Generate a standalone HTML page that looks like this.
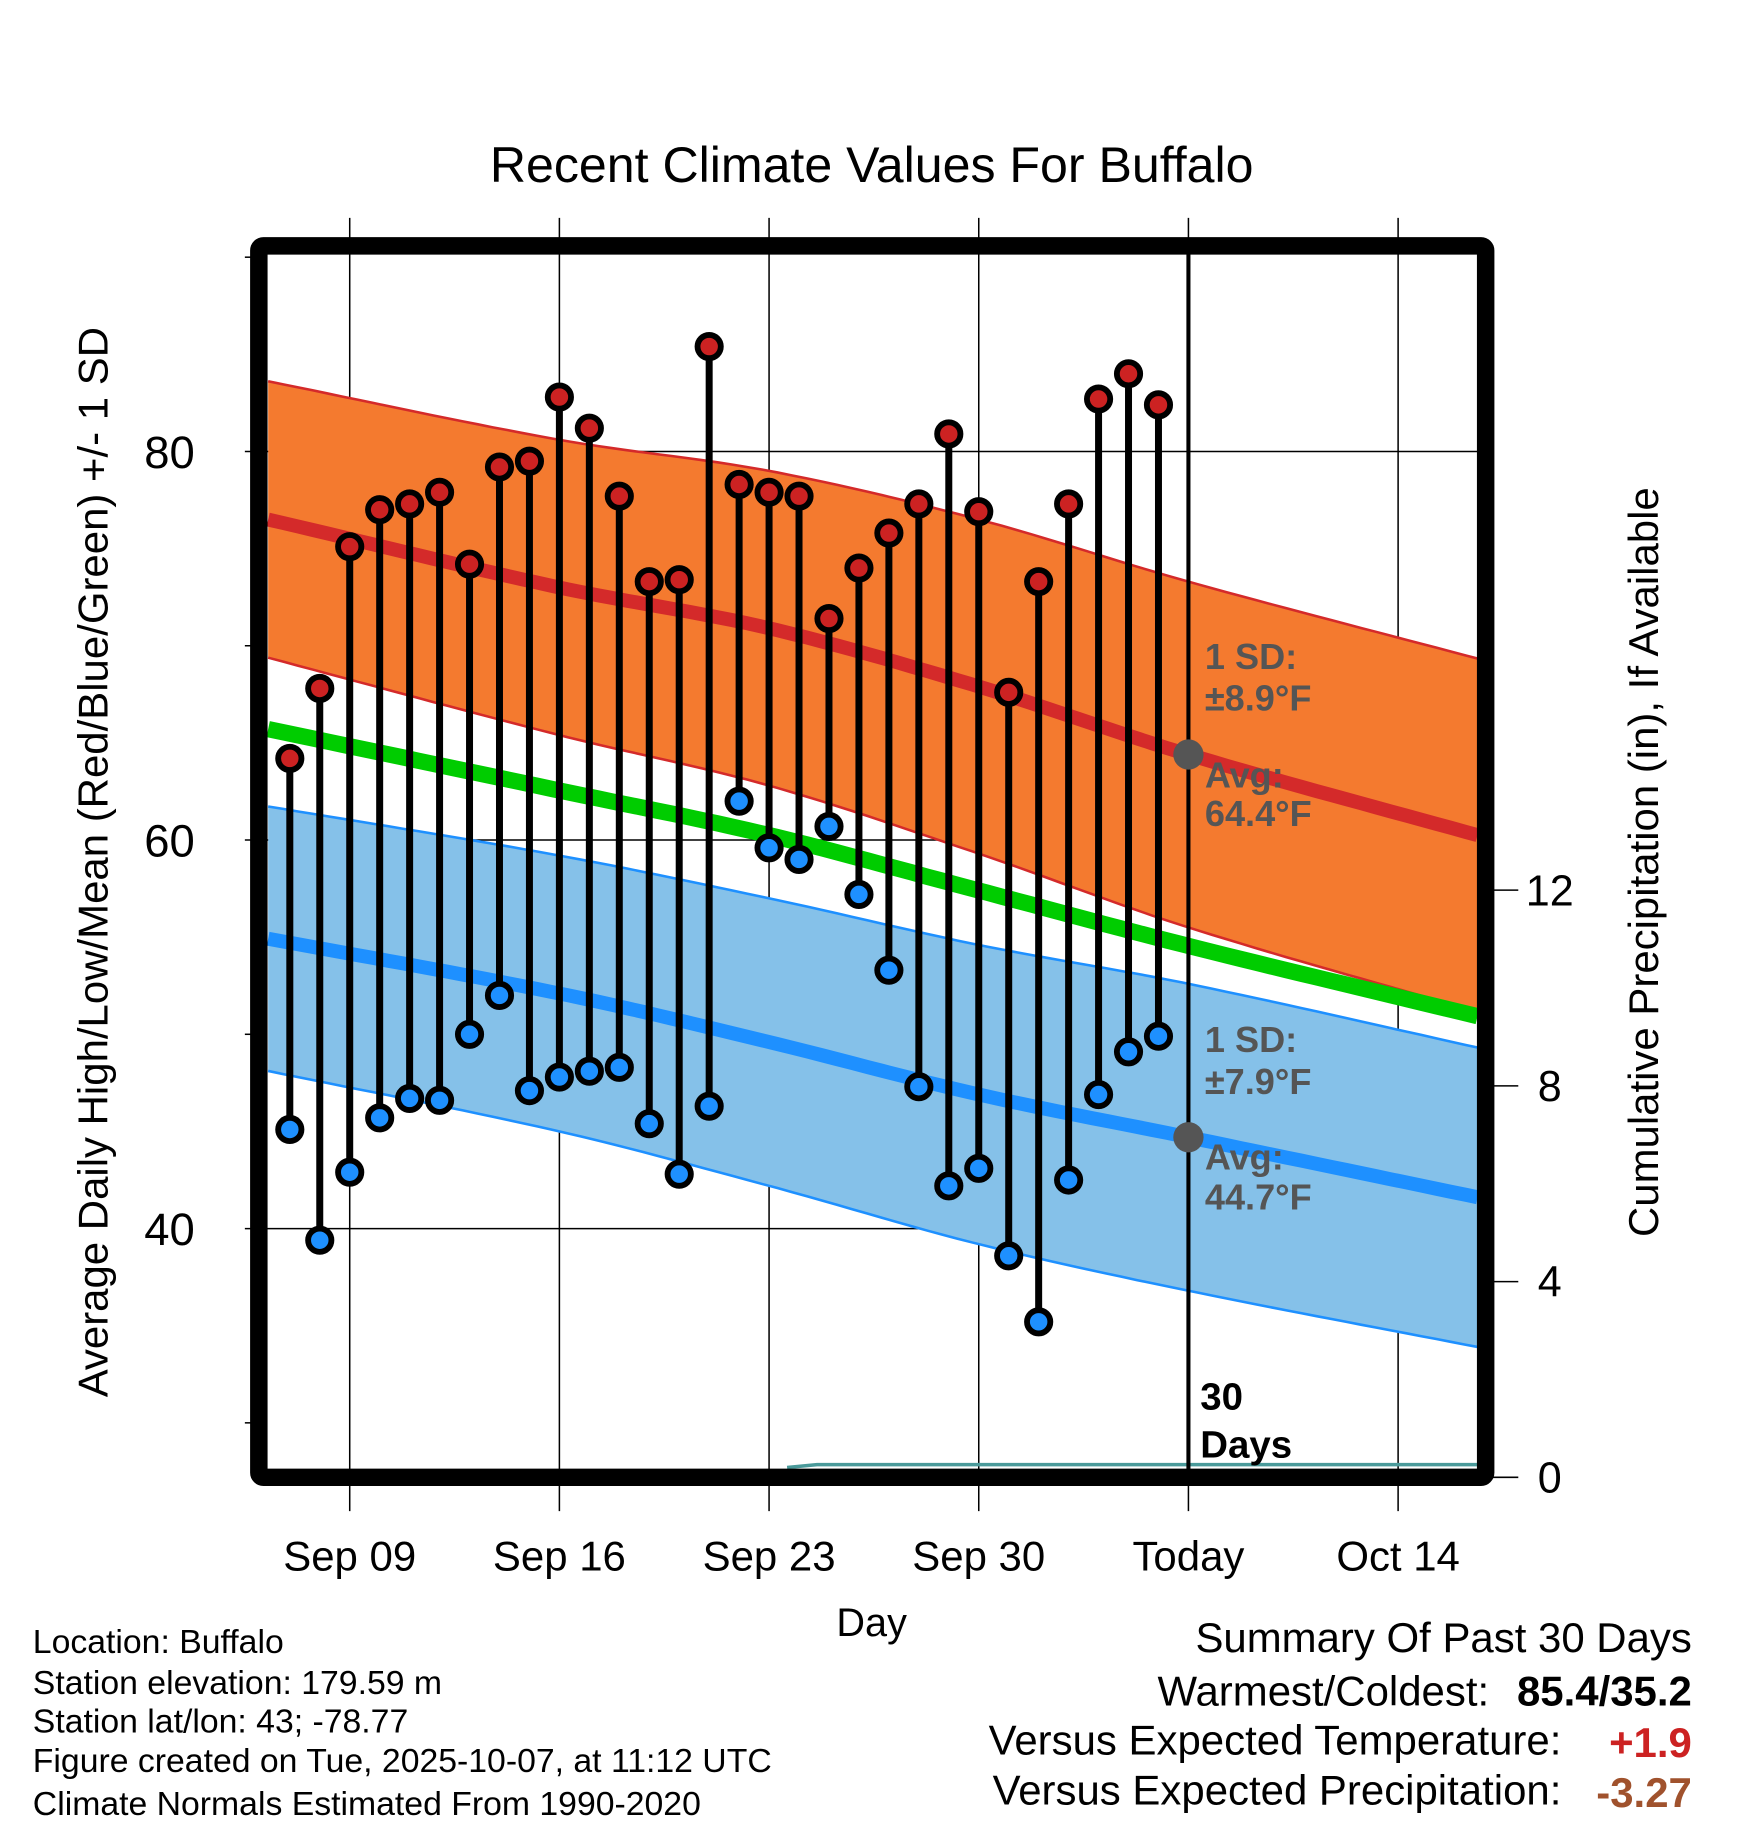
<!DOCTYPE html>
<html><head><meta charset="utf-8"><style>
html,body{margin:0;padding:0;background:#fff}
svg{display:block}
text{font-family:"Liberation Sans",sans-serif}
</style></head><body>
<svg id="chart" width="1748" height="1828" viewBox="0 0 1500 1569" xmlns="http://www.w3.org/2000/svg">
<text x="748" y="156" font-size="43" text-anchor="middle">Recent Climate Values For Buffalo</text>
<g id="grid"></g>
<g id="bands"></g>
<g id="marks"></g>
<g id="ann"></g>
<rect x="222" y="211" width="1053" height="1057" fill="none" stroke="#000" stroke-width="15" rx="4"/>
<text transform="translate(92,740) rotate(-90)" font-size="36" text-anchor="middle">Average Daily High/Low/Mean (Red/Blue/Green) +/- 1 SD</text>
<text transform="translate(1423,740) rotate(-90)" font-size="36" text-anchor="middle">Cumulative Precipitation (in), If Available</text>
<text x="748" y="1404" font-size="34" text-anchor="middle">Day</text>
<g font-size="29">
<text x="28" y="1419">Location: Buffalo</text>
<text x="28" y="1454">Station elevation: 179.59 m</text>
<text x="28" y="1487">Station lat/lon: 43; -78.77</text>
<text x="28" y="1521">Figure created on Tue, 2025-10-07, at 11:12 UTC</text>
<text x="28" y="1558">Climate Normals Estimated From 1990-2020</text>
</g>
<g font-size="36" text-anchor="end">
<text x="1452" y="1418">Summary Of Past 30 Days</text>
<text x="1278" y="1464">Warmest/Coldest:</text>
<text x="1452" y="1464" font-weight="bold">85.4/35.2</text>
<text x="1340" y="1506">Versus Expected Temperature:</text>
<text x="1452" y="1508" font-weight="bold" fill="#cc2222">+1.9</text>
<text x="1340" y="1549">Versus Expected Precipitation:</text>
<text x="1452" y="1551" font-weight="bold" fill="#a0522d">-3.27</text>
</g>
</svg>
<script>
const highs=[64.2,67.8,75.1,77.0,77.3,77.9,74.2,79.2,79.5,82.8,81.2,77.7,73.3,73.4,85.4,78.3,77.9,77.7,71.4,74.0,75.8,77.3,80.9,76.9,67.6,73.3,77.3,82.7,84.0,82.4];
const lows=[45.1,39.4,42.9,45.7,46.7,46.6,50.0,52.0,47.1,47.8,48.1,48.3,45.4,42.8,46.3,62.0,59.6,59.0,60.7,57.2,53.3,47.3,42.2,43.1,38.6,35.2,42.5,46.9,49.1,49.9];
const normDays=[-3,7,14,21,28,38];
const normHigh=[76.6,73.0,70.9,67.9,64.4,60.1];
const normLow=[55.0,52.1,49.6,46.9,44.7,41.5];
const sdHigh=[7.1,7.6,8.1,8.6,8.9,9.1];
const sdLow=[6.8,7.1,7.4,7.7,7.9,7.7];
const precipDays=[14.6,15.6,28,37.7];
const precipVals=[0.2,0.26,0.26,0.26];
const xTickDays=[0,7,14,21,28,35];
const xTickLabels=["Sep 09","Sep 16","Sep 23","Sep 30","Today","Oct 14"];
const yTicks=[40,60,80];
const yMinor=[30,50,70,90];
const y2Ticks=[0,4,8,12];
const firstDay=-2;

const NS="http://www.w3.org/2000/svg";
const X0=230,X1=1268;
const x=d=>300+25.71*d;
const y=t=>721-(t-60)*16.675;
const y2=p=>1268-p*42;
const dmin=(X0-300)/25.71, dmax=(X1-300)/25.71;
function interp(arr,d){
 const n=normDays.length;
 let i=0;while(i<n-2&&d>normDays[i+1])i++;
 const t=(d-normDays[i])/(normDays[i+1]-normDays[i]);
 const p0=arr[Math.max(i-1,0)],p1=arr[i],p2=arr[i+1],p3=arr[Math.min(i+2,n-1)];
 const h=normDays[i+1]-normDays[i];
 const dl=(i>0?normDays[i+1]-normDays[i-1]:h), dr=(i+2<n?normDays[i+2]-normDays[i]:h);
 const m1=(i>0?(p2-p0)/dl*h:(p2-p1)), m2=(i+2<n?(p3-p1)/dr*h:(p2-p1));
 const t2=t*t,t3=t2*t;
 return (2*t3-3*t2+1)*p1+(t3-2*t2+t)*m1+(-2*t3+3*t2)*p2+(t3-t2)*m2;
}
function mk(tag,attrs,parent){const e=document.createElementNS(NS,tag);for(const k in attrs)e.setAttribute(k,attrs[k]);parent.appendChild(e);return e;}
const grid=document.getElementById('grid'),bands=document.getElementById('bands'),marks=document.getElementById('marks'),ann=document.getElementById('ann');
xTickDays.forEach((d,i)=>{
 const l=mk('line',{x1:x(d),x2:x(d),y1:187,y2:1297,stroke:'#000','stroke-width':1.3},grid);
 
 
 const t=mk('text',{x:x(d),y:1348,'font-size':36,'text-anchor':'middle'},grid);t.textContent=xTickLabels[i];
 
 
});
yTicks.forEach(v=>{
 const l=mk('line',{x1:210,x2:X1,y1:y(v),y2:y(v),stroke:'#000','stroke-width':1.3},grid);
 
 
 const t=mk('text',{x:167,y:y(v)+14,'font-size':39,'text-anchor':'end'},grid);t.textContent=v;
 
 
});
yMinor.forEach(v=>{const l=mk('line',{x1:210,x2:222,y1:y(v),y2:y(v),stroke:'#000','stroke-width':1.3},grid);
 
 });
y2Ticks.forEach(v=>{
 const l=mk('line',{x1:1275,x2:1303,y1:y2(v),y2:y2(v),stroke:'#000','stroke-width':1.3},grid);
 
 
 const t=mk('text',{x:1330,y:y2(v)+13,'font-size':37,'text-anchor':'middle'},grid);t.textContent=v;
 
 
});
const ds=[];for(let d=dmin;d<dmax;d+=0.5)ds.push(d);ds.push(dmax);
const pts=f=>ds.map(d=>x(d).toFixed(1)+','+y(f(d)).toFixed(1));
function band(arr,sd,fill,edge,name){
 const up=pts(d=>interp(arr,d)+interp(sd,d)),dn=pts(d=>interp(arr,d)-interp(sd,d)).reverse();
 const p=mk('polygon',{points:up.concat(dn).join(' '),fill:fill},bands);
 
 
 [1,-1].forEach(s=>{const e=mk('polyline',{points:pts(d=>interp(arr,d)+s*interp(sd,d)).join(' '),fill:'none',stroke:edge,'stroke-width':2.2},bands);
 
 });
}
band(normLow,sdLow,'#85c1e9','#1e90ff','low');
band(normHigh,sdHigh,'#f47a2f','#d42a2a','high');
function line(f,col,w,name){const l=mk('polyline',{points:pts(f).join(' '),fill:'none',stroke:col,'stroke-width':w},bands);
 
 }
line(d=>interp(normHigh,d),'#d42a2a',12,'normal-high-line');
line(d=>interp(normLow,d),'#1e90ff',12,'normal-low-line');
line(d=>(interp(normHigh,d)+interp(normLow,d))/2,'#00cc00',14,'normal-mean-line');
const pp=mk('polyline',{points:precipDays.map((d,i)=>x(d).toFixed(1)+','+y2(precipVals[i]).toFixed(1)).join(' '),fill:'none',stroke:'#4a9a9a','stroke-width':3},bands);


const tl=mk('line',{x1:x(28),x2:x(28),y1:218,y2:1261,stroke:'#000','stroke-width':3.5},marks);


highs.forEach((h,i)=>{
 const d=firstDay+i,cx=x(d);
 const s=mk('line',{x1:cx,x2:cx,y1:y(h),y2:y(lows[i]),stroke:'#000','stroke-width':6},marks);
 
 
 const a=mk('circle',{cx:cx,cy:y(h),r:10,fill:'#cc2222',stroke:'#000','stroke-width':5},marks);
 
 
 const b=mk('circle',{cx:cx,cy:y(lows[i]),r:10,fill:'#1e90ff',stroke:'#000','stroke-width':5},marks);
 
 
});
[normHigh,normLow].forEach((arr,k)=>{
 const c=mk('circle',{cx:x(28),cy:y(interp(arr,28)),r:13,fill:'#555'},ann);
 
 
});
const labels=[["1 SD:",574],["±8.9°F",610],["Avg:",676],["64.4°F",709],["1 SD:",903],["±7.9°F",939],["Avg:",1004],["44.7°F",1038]];
labels.forEach(l=>{const t=mk('text',{x:1034,y:l[1],'font-size':31,'font-weight':'bold',fill:'#555'},ann);t.textContent=l[0];
 
 });
[["30",1210],["Days",1251]].forEach(l=>{const t=mk('text',{x:1030,y:l[1],'font-size':33,'font-weight':'bold',fill:'#000'},ann);t.textContent=l[0];
 
 });
</script>
</body></html>
